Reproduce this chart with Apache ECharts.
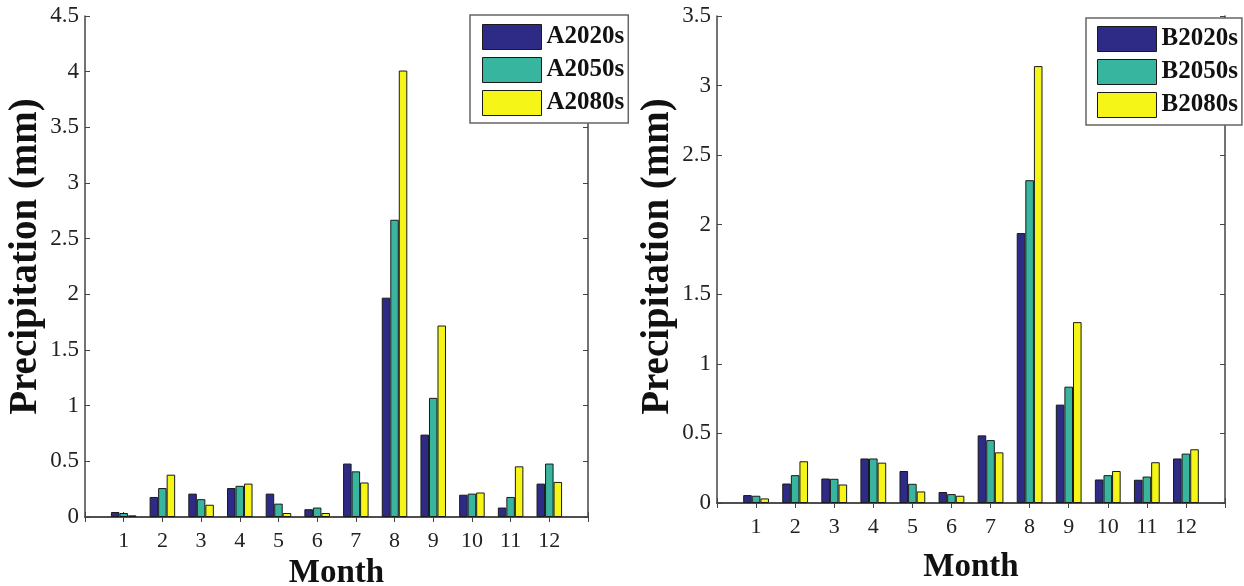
<!DOCTYPE html>
<html>
<head>
<meta charset="utf-8">
<script src="https://cdn.jsdelivr.net/npm/echarts@6/dist/echarts.min.js"></script>
<style>
    html, body { margin: 0; padding: 0; background: #fff; }
    #chart { width: 1244px; height: 586px; }
</style>
</head>
<body>
<div id="chart"></div>
<script>
// months, padded with empty slots so the axis runs from 0 to 13 like matlab
var months = ['', '1', '2', '3', '4', '5', '6', '7', '8', '9', '10', '11', '12', ''];

var a2020 = [0.045, 0.18, 0.21, 0.26, 0.21, 0.07, 0.48, 1.97, 0.74, 0.20, 0.085, 0.30];
var a2050 = [0.036, 0.26, 0.16, 0.28, 0.12, 0.085, 0.41, 2.67, 1.07, 0.21, 0.18, 0.48];
var a2080 = [0.015, 0.38, 0.11, 0.30, 0.036, 0.036, 0.31, 4.01, 1.72, 0.22, 0.455, 0.315];

var b2020 = [0.057, 0.14, 0.176, 0.32, 0.23, 0.079, 0.486, 1.94, 0.707, 0.169, 0.167, 0.32];
var b2050 = [0.052, 0.20, 0.174, 0.32, 0.138, 0.064, 0.452, 2.32, 0.836, 0.20, 0.19, 0.355];
var b2080 = [0.033, 0.30, 0.133, 0.29, 0.083, 0.052, 0.364, 3.14, 1.30, 0.23, 0.293, 0.386];

var namesA = ['A2020s', 'A2050s', 'A2080s'];
var namesB = ['B2020s', 'B2050s', 'B2080s'];
var colors = ['#2e2b87', '#37b59e', '#f5f518'];

var serif = 'Liberation Serif';
var axisColor = '#444';

function pad(arr) {
    return ['-'].concat(arr, ['-']);
}

function xAxes(gridIndex, gap) {
    return [{
        type: 'category',
        gridIndex: gridIndex,
        data: months,
        boundaryGap: false,
        position: 'bottom',
        name: 'Month',
        nameLocation: 'middle',
        nameGap: gap,
        nameTextStyle: { fontFamily: serif, fontWeight: 'bold', fontSize: 33, color: '#111' },
        axisLine: { lineStyle: { color: axisColor, width: 1.5 } },
        axisTick: { inside: true, length: 5, interval: 0, lineStyle: { color: axisColor } },
        axisLabel: { interval: 0, margin: 13, fontFamily: serif, fontSize: 22, color: '#222' }
    }, {
        type: 'category',
        gridIndex: gridIndex,
        data: months,
        boundaryGap: false,
        position: 'top',
        axisLine: { lineStyle: { color: axisColor, width: 1.5 } },
        axisTick: { inside: true, length: 5, interval: 0, lineStyle: { color: axisColor } },
        axisLabel: { show: false }
    }];
}

function yAxes(gridIndex, max, shift) {
    return [{
        type: 'value',
        gridIndex: gridIndex,
        min: 0,
        max: max,
        interval: 0.5,
        position: 'left',
        name: 'Precipitation (mm)',
        nameLocation: 'middle',
        nameRotate: 90,
        nameGap: 40,
        // padding on the left moves the rotated title up a little
        nameTextStyle: { fontFamily: serif, fontWeight: 'bold', fontSize: 39, color: '#111', padding: [0, 0, 0, shift] },
        splitLine: { show: false },
        axisLine: { show: true, lineStyle: { color: axisColor, width: 1.5 } },
        axisTick: { show: true, inside: true, length: 5, lineStyle: { color: axisColor } },
        axisLabel: { margin: 6, fontFamily: serif, fontSize: 23, color: '#222' }
    }, {
        type: 'value',
        gridIndex: gridIndex,
        min: 0,
        max: max,
        interval: 0.5,
        position: 'right',
        splitLine: { show: false },
        axisLine: { show: true, lineStyle: { color: axisColor, width: 1.5 } },
        axisTick: { show: true, inside: true, length: 5, lineStyle: { color: axisColor } },
        axisLabel: { show: false }
    }];
}

function barSeries(name, data, color, xi, yi) {
    return {
        name: name,
        type: 'bar',
        xAxisIndex: xi,
        yAxisIndex: yi,
        data: pad(data),
        barWidth: '22%',
        barGap: '0%',
        itemStyle: { color: color, borderColor: '#1a1a1a', borderWidth: 1 },
        emphasis: { disabled: true }
    };
}

function legendBox(names, left, top, padding) {
    return {
        orient: 'vertical',
        left: left,
        top: top,
        data: names,
        icon: 'rect',
        itemWidth: 59,
        itemHeight: 25,
        itemGap: 7,
        padding: padding,
        backgroundColor: '#fff',
        borderColor: '#666',
        borderWidth: 1.5,
        borderRadius: 0,
        selectedMode: false,
        itemStyle: { borderColor: '#1a1a1a', borderWidth: 1 },
        textStyle: { fontFamily: serif, fontWeight: 'bold', fontSize: 25, color: '#111' }
    };
}

var chart = echarts.init(document.getElementById('chart'));

chart.setOption({
    backgroundColor: '#fff',
    animation: false,
    grid: [
        { left: 85, top: 16, width: 503, height: 501, outerBoundsMode: 'none' },
        { left: 717, top: 16, width: 508, height: 487, outerBoundsMode: 'none' }
    ],
    legend: [
        legendBox(namesA, 470, 15, [9, 4, 7, 12]),
        legendBox(namesB, 1086, 18, [8, 4, 7, 11])
    ],
    xAxis: xAxes(0, 38).concat(xAxes(1, 48)),
    yAxis: yAxes(0, 4.5, 20).concat(yAxes(1, 3.5, 6)),
    series: [
        barSeries(namesA[0], a2020, colors[0], 0, 0),
        barSeries(namesA[1], a2050, colors[1], 0, 0),
        barSeries(namesA[2], a2080, colors[2], 0, 0),
        barSeries(namesB[0], b2020, colors[0], 2, 2),
        barSeries(namesB[1], b2050, colors[1], 2, 2),
        barSeries(namesB[2], b2080, colors[2], 2, 2)
    ]
});
</script>
</body>
</html>
